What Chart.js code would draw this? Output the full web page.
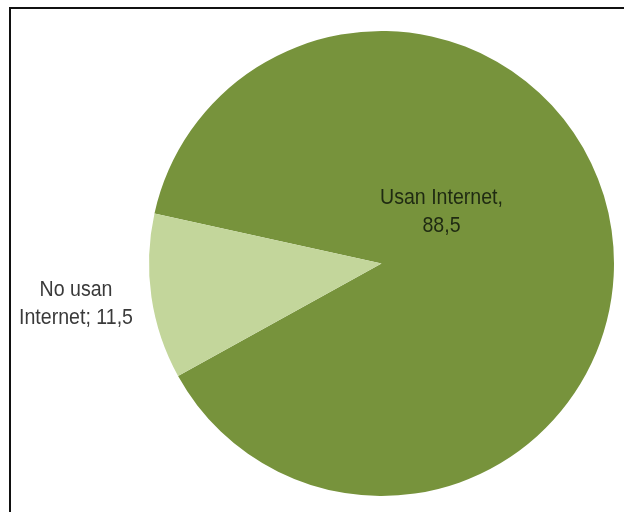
<!DOCTYPE html>
<html>
<head>
<meta charset="utf-8">
<script src="https://cdn.jsdelivr.net/npm/chart.js@4/dist/chart.umd.min.js"></script>
<style>
  html, body { margin: 0; padding: 0; background: #fff; }
  #wrap { position: relative; width: 624px; height: 512px; }
  #frame { position: absolute; left: 9px; top: 7px; right: -5px; bottom: -5px;
           border-top: 2px solid #111; border-left: 2px solid #111; pointer-events: none; }
  canvas { display: block; }
</style>
</head>
<body>
<div id="wrap">
  <canvas id="c" width="624" height="512"></canvas>
  <div id="frame"></div>
</div>
<script>
const categories = ["Usan Internet", "No usan Internet"];
const values = [88.5, 11.5];
const valueLabels = ["88,5", "11,5"];
const colors = ["#77933C", "#C3D69B"];

// label placement (relative to pie center, in fractions of the radius)
const labelPlacement = [
  { dx: 0.258, dy: -0.222, lines: [categories[0] + ",", valueLabels[0]], color: "#1f2a12" },
  { dx: -1.314, dy: 0.172, lines: ["No usan", "Internet; " + valueLabels[1]], color: "#3a3a3a" }
];

const labelPlugin = {
  id: 'sliceLabels',
  afterDatasetsDraw(chart) {
    const meta = chart.getDatasetMeta(0);
    const ctx = chart.ctx;
    const arc0 = meta.data[0];
    const cx = arc0.x, cy = arc0.y, r = arc0.outerRadius;
    const sx = 0.89;
    ctx.save();
    ctx.font = '22px "Liberation Sans Narrow", "Arial Narrow", "Liberation Sans", sans-serif';
    ctx.textAlign = 'center';
    ctx.textBaseline = 'middle';
    const lh = 28;
    labelPlacement.forEach((p) => {
      const x = cx + p.dx * r;
      const y = cy + p.dy * r;
      const n = p.lines.length;
      ctx.fillStyle = p.color;
      p.lines.forEach((t, i) => {
        ctx.save();
        ctx.translate(x, y + (i - (n - 1) / 2) * lh);
        ctx.scale(sx, 1);
        ctx.fillText(t, 0, 0);
        ctx.restore();
      });
    });
    ctx.restore();
  }
};

new Chart(document.getElementById('c'), {
  type: 'pie',
  data: {
    labels: categories,
    datasets: [{
      data: values,
      backgroundColor: colors,
      borderWidth: 0
    }]
  },
  options: {
    responsive: false,
    animation: false,
    rotation: 282.45,
    layout: { padding: { left: 149, right: 10, top: 31, bottom: 16 } },
    plugins: {
      legend: { display: false },
      tooltip: { enabled: false }
    }
  },
  plugins: [labelPlugin]
});
</script>
</body>
</html>
